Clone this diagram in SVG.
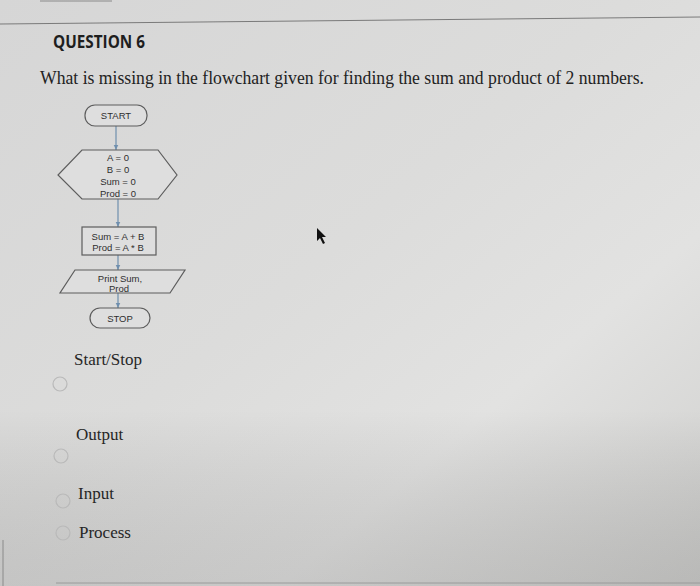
<svg xmlns="http://www.w3.org/2000/svg" width="700" height="586" viewBox="0 0 700 586">
<defs>
<linearGradient id="bg" x1="0" y1="0" x2="1" y2="1">
<stop offset="0" stop-color="#d6d6d6"/>
<stop offset="0.45" stop-color="#dcdcdb"/>
<stop offset="0.7" stop-color="#e2e2e1"/>
<stop offset="1" stop-color="#cfcfcd"/>
</linearGradient>
<linearGradient id="bg2" x1="0" y1="0" x2="0" y2="1">
<stop offset="0.7" stop-color="#000" stop-opacity="0"/>
<stop offset="1" stop-color="#555" stop-opacity="0.18"/>
</linearGradient>
<marker id="ah" viewBox="0 0 10 10" refX="9" refY="5" markerWidth="5" markerHeight="5" orient="auto">
<path d="M0,1 L9,5 L0,9 z" fill="#6f8fae"/>
</marker>
<style>
.shape{fill:#dedede;stroke:#5d5d5d;stroke-width:1.2}
.fc{font-family:"Liberation Sans",Arial,sans-serif;font-size:9.5px;fill:#2e2e2e;text-anchor:middle}
.conn{stroke:#6f8fae;stroke-width:1.2;fill:none;marker-end:url(#ah)}
.opt{font-family:"Liberation Serif","Times New Roman",serif;font-size:17px;fill:#262626}
.radio{fill:none;stroke:#b9b9b9;stroke-width:1.2}
</style>
</defs>
<rect width="700" height="586" fill="url(#bg)"/>
<rect width="700" height="586" fill="url(#bg2)"/>
<line x1="40" y1="1" x2="112" y2="1" stroke="#8a8a8a" stroke-width="1"/>
<line x1="0" y1="24" x2="700" y2="17" stroke="#7a7a7a" stroke-width="1"/>
<line x1="3" y1="540" x2="3" y2="586" stroke="#8a8a8a" stroke-width="1"/>
<line x1="56" y1="583" x2="700" y2="583" stroke="#9a9a9a" stroke-width="1"/>
<text x="53" y="48" font-family="'Open Sans','Liberation Sans',sans-serif" font-weight="700" font-size="18" fill="#1e1e1e" textLength="92" lengthAdjust="spacingAndGlyphs">QUESTION 6</text>
<text x="40" y="84" font-family="'Liberation Serif','Times New Roman',serif" font-size="18" fill="#222" textLength="604" lengthAdjust="spacingAndGlyphs">What is missing in the flowchart given for finding the sum and product of 2 numbers.</text>
<g id="connectors">
<line class="conn" x1="116" y1="126" x2="116" y2="150"/>
<line class="conn" x1="118" y1="199" x2="118" y2="227"/>
<line class="conn" x1="118" y1="255" x2="118" y2="270"/>
<line class="conn" x1="118" y1="293" x2="118" y2="308"/>
</g>
<g id="start">
<rect class="shape" x="85" y="105" width="62" height="21" rx="10"/>
<text class="fc" x="116" y="119">START</text>
</g>
<g id="init">
<polygon class="shape" points="82,150 158,150 177,175 158,199 82,199 58,175"/>
<text class="fc" x="118" y="160.5">A = 0</text>
<text class="fc" x="118" y="172.5">B = 0</text>
<text class="fc" x="118" y="185">Sum = 0</text>
<text class="fc" x="118" y="196.5">Prod = 0</text>
</g>
<g id="process">
<rect class="shape" x="82" y="227" width="74" height="28"/>
<text class="fc" x="118" y="239.5">Sum = A + B</text>
<text class="fc" x="118" y="250.5">Prod = A * B</text>
</g>
<g id="output">
<polygon class="shape" points="75,270 185,270 170,293 60,293"/>
<text class="fc" x="120" y="281.5">Print Sum,</text>
<text class="fc" x="119" y="292">Prod</text>
</g>
<g id="stop">
<rect class="shape" x="90" y="308" width="60" height="20" rx="10"/>
<text class="fc" x="120" y="321.5">STOP</text>
</g>
<g id="options">
<text class="opt" x="74" y="365">Start/Stop</text>
<circle class="radio" cx="60" cy="384" r="7"/>
<text class="opt" x="76" y="440">Output</text>
<circle class="radio" cx="61" cy="456" r="7"/>
<text class="opt" x="78" y="499">Input</text>
<circle class="radio" cx="63" cy="501" r="7"/>
<text class="opt" x="79" y="538">Process</text>
<circle class="radio" cx="63" cy="533" r="7"/>
</g>
<polygon points="317,228 317,241 320,238 323,244 325,243 322,237 326,237" fill="#111"/>
</svg>
